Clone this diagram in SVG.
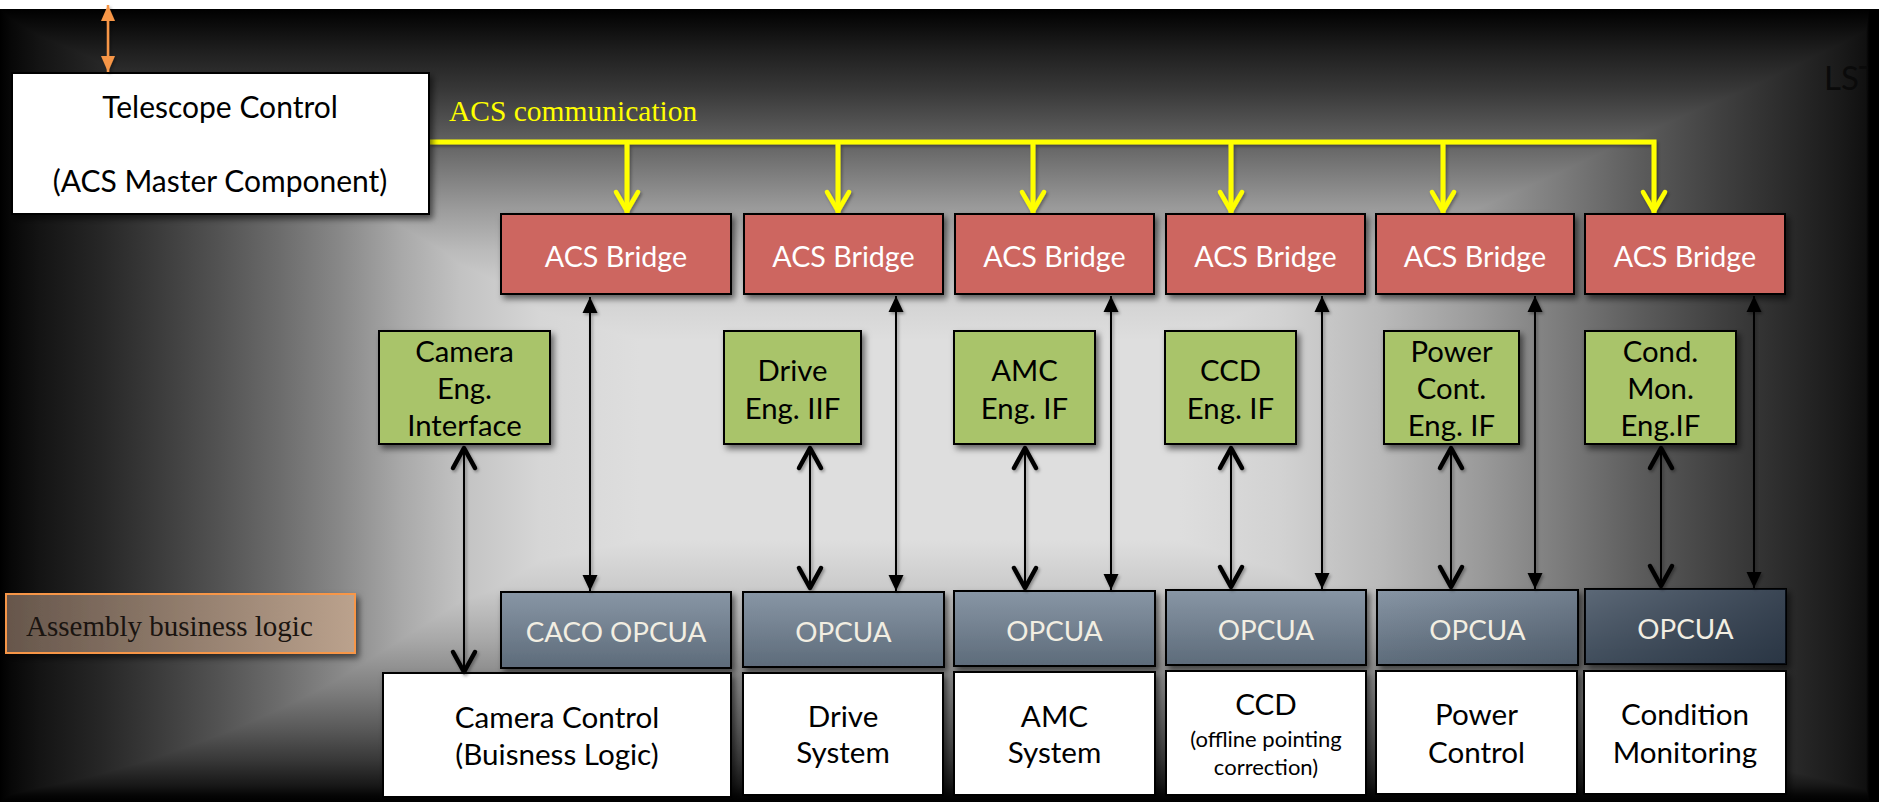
<svg xmlns="http://www.w3.org/2000/svg" width="1879" height="802" viewBox="0 0 1879 802">
  <defs>
    <style>
      .sans{font-family:Lato,"Open Sans","Liberation Sans",sans-serif}
      .serif{font-family:"Liberation Serif","DejaVu Serif",serif}
      .box{stroke:#000;stroke-width:2;filter:url(#shadow)}
      .bridge rect{fill:#cd6660}
      .bridge text{fill:#fff;font-size:28.7px;text-anchor:middle}
      .eng rect{fill:#a9c46b}
      .eng text{fill:#000;font-size:29.3px;text-anchor:middle}
      .opc rect.base{fill:url(#opcV)}
      .opc rect.dim{fill:url(#opcH);stroke:none}
      .opc text{fill:#f2eee2;font-size:27.8px;text-anchor:middle}
      .sys rect{fill:#fff}
      .sys text{fill:#000;font-size:29.6px;text-anchor:middle}
      .sys text.small{font-size:22px}
      .thin{stroke:#000;stroke-width:2;fill:none;marker-start:url(#tri);marker-end:url(#tri)}
      .thick{stroke:#000;stroke-width:2;fill:none;marker-start:url(#chev);marker-end:url(#chev)}
      .acs{stroke:#ffff00;stroke-width:5;fill:none}
      .drop{marker-end:url(#ychev)}
    </style>

    <!-- rectangular vignette: horizontal and vertical ramps combined with "darken" -->
    <linearGradient id="bgH" gradientUnits="userSpaceOnUse" x1="0" y1="0" x2="1879" y2="0">
      <stop offset="0" stop-color="#000"/>
      <stop offset="0.0064" stop-color="#080808"/>
      <stop offset="0.0213" stop-color="#141414"/>
      <stop offset="0.0532" stop-color="#262626"/>
      <stop offset="0.0852" stop-color="#3c3c3c"/>
      <stop offset="0.1171" stop-color="#535353"/>
      <stop offset="0.1490" stop-color="#6c6c6c"/>
      <stop offset="0.1810" stop-color="#888888"/>
      <stop offset="0.2129" stop-color="#a8a8a8"/>
      <stop offset="0.2448" stop-color="#c2c2c2"/>
      <stop offset="0.2874" stop-color="#d6d6d6"/>
      <stop offset="0.3406" stop-color="#dedede"/>
      <stop offset="0.6280" stop-color="#dedede"/>
      <stop offset="0.6812" stop-color="#d2d2d2"/>
      <stop offset="0.7344" stop-color="#bababa"/>
      <stop offset="0.7877" stop-color="#9a9a9a"/>
      <stop offset="0.8302" stop-color="#7c7c7c"/>
      <stop offset="0.8728" stop-color="#5c5c5c"/>
      <stop offset="0.9154" stop-color="#404040"/>
      <stop offset="0.9526" stop-color="#2a2a2a"/>
      <stop offset="0.9793" stop-color="#1a1a1a"/>
      <stop offset="0.9931" stop-color="#101010"/>
      <stop offset="0.9947" stop-color="#000"/>
      <stop offset="1" stop-color="#000"/>
    </linearGradient>
    <linearGradient id="bgV" gradientUnits="userSpaceOnUse" x1="0" y1="0" x2="0" y2="802">
      <stop offset="0" stop-color="#000"/>
      <stop offset="0.0112" stop-color="#000"/>
      <stop offset="0.0249" stop-color="#080808"/>
      <stop offset="0.0623" stop-color="#1e1e1e"/>
      <stop offset="0.1122" stop-color="#383838"/>
      <stop offset="0.1621" stop-color="#585858"/>
      <stop offset="0.2120" stop-color="#7a7a7a"/>
      <stop offset="0.2618" stop-color="#9c9c9c"/>
      <stop offset="0.3117" stop-color="#bababa"/>
      <stop offset="0.3616" stop-color="#d0d0d0"/>
      <stop offset="0.4239" stop-color="#dedede"/>
      <stop offset="0.6733" stop-color="#dedede"/>
      <stop offset="0.7357" stop-color="#cacaca"/>
      <stop offset="0.7980" stop-color="#a8a8a8"/>
      <stop offset="0.8603" stop-color="#7e7e7e"/>
      <stop offset="0.9102" stop-color="#585858"/>
      <stop offset="0.9476" stop-color="#383838"/>
      <stop offset="0.9788" stop-color="#181818"/>
      <stop offset="0.9925" stop-color="#050505"/>
      <stop offset="1" stop-color="#000"/>
    </linearGradient>

    <!-- OPC UA server boxes: vertical sheen plus darkening towards the right edge -->
    <linearGradient id="opcV" x1="0" y1="0" x2="0" y2="1">
      <stop offset="0" stop-color="#8896a5"/>
      <stop offset="1" stop-color="#5d6b7a"/>
    </linearGradient>
    <linearGradient id="opcH" gradientUnits="userSpaceOnUse" x1="1377" y1="0" x2="1786" y2="0">
      <stop offset="0" stop-color="#0a1422" stop-opacity="0"/>
      <stop offset="0.49" stop-color="#0a1422" stop-opacity="0.18"/>
      <stop offset="0.51" stop-color="#0a1422" stop-opacity="0.35"/>
      <stop offset="1" stop-color="#0a1422" stop-opacity="0.62"/>
    </linearGradient>

    <linearGradient id="asm" x1="0" y1="0" x2="1" y2="0">
      <stop offset="0" stop-color="#66564b"/>
      <stop offset="1" stop-color="#bba28d"/>
    </linearGradient>

    <filter id="shadow" x="-10%" y="-10%" width="130%" height="140%">
      <feDropShadow dx="3" dy="4" stdDeviation="3" flood-color="#000" flood-opacity="0.55"/>
    </filter>
    <filter id="soft" x="-5%" y="-20%" width="110%" height="160%">
      <feDropShadow dx="1.5" dy="2" stdDeviation="1.5" flood-color="#000" flood-opacity="0.35"/>
    </filter>

    <clipPath id="frame">
      <rect x="0" y="0" width="1868" height="802"/>
    </clipPath>

    <marker id="tri" markerUnits="userSpaceOnUse" viewBox="-18 -9 20 18" refX="0" refY="0" markerWidth="20" markerHeight="18" orient="auto-start-reverse" overflow="visible">
      <path d="M0,0 L-16,-7.5 L-16,7.5 Z" fill="#000"/>
    </marker>
    <marker id="chev" markerUnits="userSpaceOnUse" viewBox="-26 -15 30 30" refX="0" refY="0" markerWidth="30" markerHeight="30" orient="auto-start-reverse" overflow="visible">
      <path d="M-22,-11 L-2,0 L-22,11" fill="none" stroke="#000" stroke-width="4.5" stroke-linecap="round" stroke-linejoin="round"/>
    </marker>
    <marker id="ychev" markerUnits="userSpaceOnUse" viewBox="-26 -15 30 30" refX="0" refY="0" markerWidth="30" markerHeight="30" orient="auto" overflow="visible">
      <path d="M-21,-11 L-2,0 L-21,11" fill="none" stroke="#ffff00" stroke-width="4.5" stroke-linecap="round" stroke-linejoin="round"/>
    </marker>
    <marker id="otri" markerUnits="userSpaceOnUse" viewBox="-18 -9 20 18" refX="0" refY="0" markerWidth="20" markerHeight="18" orient="auto-start-reverse" overflow="visible">
      <path d="M0,0 L-16,-7 L-16,7 Z" fill="#f79646"/>
    </marker>
  </defs>

  <!-- backdrop -->
  <g id="backdrop" style="isolation:isolate">
    <rect x="0" y="0" width="1879" height="802" fill="url(#bgH)"/>
    <rect x="0" y="0" width="1879" height="802" fill="url(#bgV)" style="mix-blend-mode:darken"/>
    <rect x="0" y="0" width="1879" height="9" fill="#fff"/>
  </g>

  <text id="lst" class="sans" x="1824" y="90" font-size="33" fill="#0a0a0a" clip-path="url(#frame)">LST</text>

  <!-- ACS bus -->
  <g id="acs-bus" filter="url(#soft)">
    <path class="acs" d="M429,142 H1654 V213" marker-end="url(#ychev)"/>
    <path class="acs drop" d="M627,142 V213"/>
    <path class="acs drop" d="M838,142 V213"/>
    <path class="acs drop" d="M1033,142 V213"/>
    <path class="acs drop" d="M1231,142 V213"/>
    <path class="acs drop" d="M1443,142 V213"/>
  </g>
  <text id="acs-label" class="serif" x="449" y="121" font-size="29.5" fill="#ffff00">ACS communication</text>

  <!-- telescope control master -->
  <g id="telescope-control">
    <rect class="box" x="12" y="73" width="417" height="141" fill="#fff"/>
    <text class="sans" x="220" y="118" font-size="30" text-anchor="middle">Telescope Control</text>
    <text class="sans" x="220" y="192" font-size="30" text-anchor="middle">(ACS Master Component)</text>
  </g>

  <!-- assembly business logic legend -->
  <g id="assembly-legend">
    <rect x="6" y="594" width="349" height="59" fill="url(#asm)" stroke="#f79646" stroke-width="2" filter="url(#shadow)"/>
    <text class="serif" x="26" y="636" font-size="29" fill="#1a1410">Assembly business logic</text>
  </g>

  <!-- ACS bridges -->
  <g id="bridge-camera" class="bridge sans"><rect class="box" x="501" y="214" width="230" height="80"/><text x="616" y="267">ACS Bridge</text></g>
  <g id="bridge-drive" class="bridge sans"><rect class="box" x="744" y="214" width="199" height="80"/><text x="843.5" y="267">ACS Bridge</text></g>
  <g id="bridge-amc" class="bridge sans"><rect class="box" x="955" y="214" width="199" height="80"/><text x="1054.5" y="267">ACS Bridge</text></g>
  <g id="bridge-ccd" class="bridge sans"><rect class="box" x="1166" y="214" width="199" height="80"/><text x="1265.5" y="267">ACS Bridge</text></g>
  <g id="bridge-power" class="bridge sans"><rect class="box" x="1376" y="214" width="198" height="80"/><text x="1475" y="267">ACS Bridge</text></g>
  <g id="bridge-cond" class="bridge sans"><rect class="box" x="1585" y="214" width="200" height="80"/><text x="1685" y="267">ACS Bridge</text></g>

  <!-- engineering interfaces -->
  <g id="eng-camera" class="eng sans"><rect class="box" x="379" y="331" width="171" height="113"/>
    <text x="464.5" y="362">Camera</text><text x="464.5" y="399">Eng.</text><text x="464.5" y="436">Interface</text></g>
  <g id="eng-drive" class="eng sans"><rect class="box" x="724" y="331" width="137" height="113"/>
    <text x="792.5" y="381">Drive</text><text x="792.5" y="419">Eng. IIF</text></g>
  <g id="eng-amc" class="eng sans"><rect class="box" x="954" y="331" width="141" height="113"/>
    <text x="1024.5" y="381">AMC</text><text x="1024.5" y="419">Eng. IF</text></g>
  <g id="eng-ccd" class="eng sans"><rect class="box" x="1165" y="331" width="131" height="113"/>
    <text x="1230.5" y="381">CCD</text><text x="1230.5" y="419">Eng. IF</text></g>
  <g id="eng-power" class="eng sans"><rect class="box" x="1384" y="331" width="135" height="113"/>
    <text x="1451.5" y="362">Power</text><text x="1451.5" y="399">Cont.</text><text x="1451.5" y="436">Eng. IF</text></g>
  <g id="eng-cond" class="eng sans"><rect class="box" x="1585" y="331" width="151" height="113"/>
    <text x="1660.5" y="362">Cond.</text><text x="1660.5" y="399">Mon.</text><text x="1660.5" y="436">Eng.IF</text></g>

  <!-- OPC UA servers -->
  <g id="opc-camera" class="opc sans"><rect class="box base" x="501" y="592" width="230" height="76"/><rect class="dim" x="501" y="592" width="230" height="76"/><text x="616" y="642">CACO OPCUA</text></g>
  <g id="opc-drive" class="opc sans"><rect class="box base" x="743" y="592" width="201" height="75"/><rect class="dim" x="743" y="592" width="201" height="75"/><text x="843.5" y="642">OPCUA</text></g>
  <g id="opc-amc" class="opc sans"><rect class="box base" x="954" y="591" width="201" height="75"/><rect class="dim" x="954" y="591" width="201" height="75"/><text x="1054.5" y="641">OPCUA</text></g>
  <g id="opc-ccd" class="opc sans"><rect class="box base" x="1166" y="590" width="200" height="75"/><rect class="dim" x="1166" y="590" width="200" height="75"/><text x="1266" y="640">OPCUA</text></g>
  <g id="opc-power" class="opc sans"><rect class="box base" x="1377" y="590" width="201" height="75"/><rect class="dim" x="1377" y="590" width="201" height="75"/><text x="1477.5" y="640">OPCUA</text></g>
  <g id="opc-cond" class="opc sans"><rect class="box base" x="1585" y="589" width="201" height="75"/><rect class="dim" x="1585" y="589" width="201" height="75"/><text x="1685.5" y="639">OPCUA</text></g>

  <!-- controlled systems -->
  <g id="sys-camera" class="sys sans"><rect class="box" x="383" y="673" width="348" height="124"/>
    <text x="557" y="728">Camera Control</text><text x="557" y="765">(Buisness Logic)</text></g>
  <g id="sys-drive" class="sys sans"><rect class="box" x="743" y="673" width="200" height="122"/>
    <text x="843" y="727">Drive</text><text x="843" y="763">System</text></g>
  <g id="sys-amc" class="sys sans"><rect class="box" x="954" y="672" width="201" height="123"/>
    <text x="1054.5" y="727">AMC</text><text x="1054.5" y="763">System</text></g>
  <g id="sys-ccd" class="sys sans"><rect class="box" x="1166" y="671" width="200" height="124"/>
    <text x="1266" y="715">CCD</text>
    <text class="small" x="1266" y="747">(offline pointing</text>
    <text class="small" x="1266" y="775">correction)</text></g>
  <g id="sys-power" class="sys sans"><rect class="box" x="1376" y="671" width="201" height="123"/>
    <text x="1476.5" y="725">Power</text><text x="1476.5" y="763">Control</text></g>
  <g id="sys-cond" class="sys sans"><rect class="box" x="1584" y="671" width="202" height="123"/>
    <text x="1685" y="725">Condition</text><text x="1685" y="763">Monitoring</text></g>

  <!-- links -->
  <g id="connectors" filter="url(#soft)">
    <line x1="108" y1="5" x2="108" y2="72" stroke="#f79646" stroke-width="2.5" marker-start="url(#otri)" marker-end="url(#otri)"/>
    <line class="thin" x1="590" y1="297" x2="590" y2="591"/>
    <line class="thin" x1="896" y1="296" x2="896" y2="591"/>
    <line class="thin" x1="1111" y1="296" x2="1111" y2="590"/>
    <line class="thin" x1="1322" y1="296" x2="1322" y2="589"/>
    <line class="thin" x1="1535" y1="296" x2="1535" y2="589"/>
    <line class="thin" x1="1754" y1="296" x2="1754" y2="588"/>
    <line class="thick" x1="464" y1="446" x2="464" y2="674"/>
    <line class="thick" x1="810" y1="446" x2="810" y2="590"/>
    <line class="thick" x1="1025" y1="446" x2="1025" y2="590"/>
    <line class="thick" x1="1231" y1="446" x2="1231" y2="589"/>
    <line class="thick" x1="1451" y1="446" x2="1451" y2="589"/>
    <line class="thick" x1="1661" y1="446" x2="1661" y2="588"/>
  </g>
</svg>
